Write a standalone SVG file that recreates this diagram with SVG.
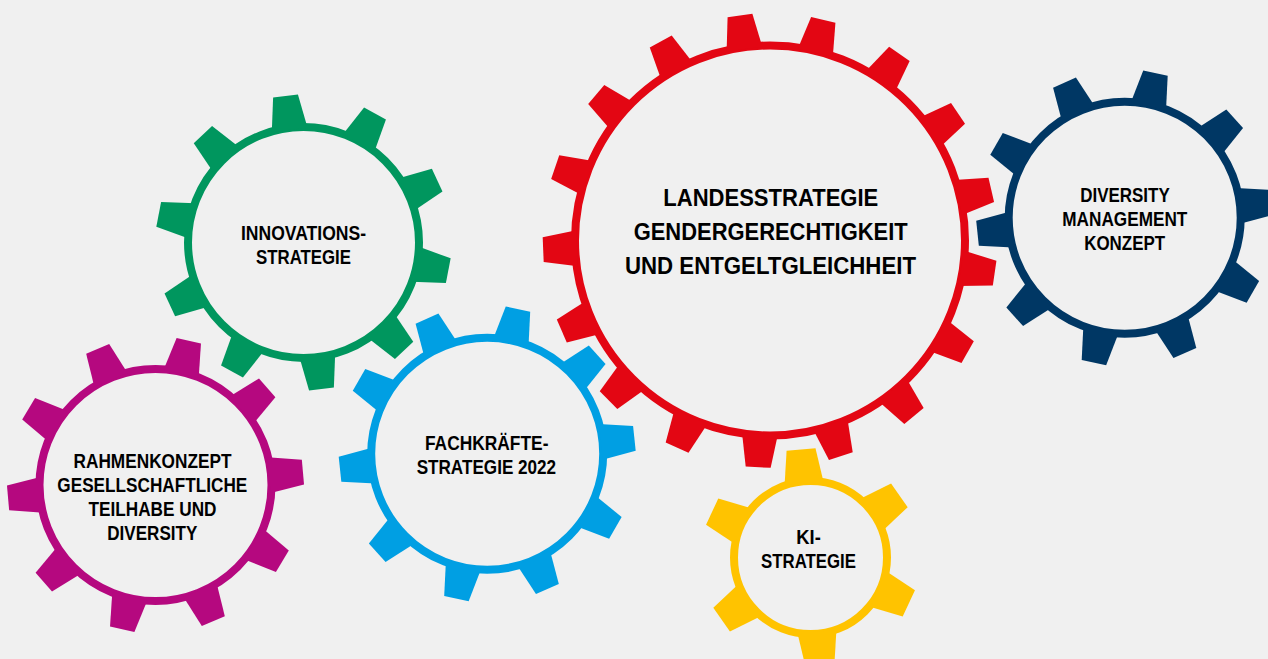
<svg xmlns="http://www.w3.org/2000/svg" xmlns:xlink="http://www.w3.org/1999/xlink" width="1268" height="659" viewBox="0 0 1268 659">
<style>
.ring{fill:none;stroke-width:8}
.lbl{font-family:"Liberation Sans",Arial,sans-serif;font-weight:bold;fill:#000;text-anchor:middle}
.big{font-size:23.5px}
.sm{font-size:19.5px}
</style>
<defs>
<path id="tooth" d="M-18,6 L-12.5,-28 L12.5,-28 L18,6 Z"/>
<path id="toothY" d="M-19.5,6 L-14.5,-28 L14.5,-28 L19.5,6 Z"/>
</defs>
<rect width="1268" height="659" fill="#f0f0f0"/>

<g id="gear-innovation">
<g transform="translate(303.5 242.5)" fill="#00965e">
<circle class="ring" r="115.5" stroke="#00965e"/>
<use xlink:href="#tooth" transform="rotate(-7) translate(0 -119.5)"/>
<use xlink:href="#tooth" transform="rotate(29) translate(0 -119.5)"/>
<use xlink:href="#tooth" transform="rotate(65) translate(0 -119.5)"/>
<use xlink:href="#tooth" transform="rotate(101) translate(0 -119.5)"/>
<use xlink:href="#tooth" transform="rotate(137) translate(0 -119.5)"/>
<use xlink:href="#tooth" transform="rotate(173) translate(0 -119.5)"/>
<use xlink:href="#tooth" transform="rotate(209) translate(0 -119.5)"/>
<use xlink:href="#tooth" transform="rotate(245) translate(0 -119.5)"/>
<use xlink:href="#tooth" transform="rotate(281) translate(0 -119.5)"/>
<use xlink:href="#tooth" transform="rotate(317) translate(0 -119.5)"/>
</g>
<text class="lbl sm" x="303.5" y="239.5" textLength="125" lengthAdjust="spacingAndGlyphs">INNOVATIONS-</text>
<text class="lbl sm" x="303.5" y="263.5" textLength="95" lengthAdjust="spacingAndGlyphs">STRATEGIE</text>
</g>

<g id="gear-landesstrategie">
<g transform="translate(770 240.5)" fill="#e30613">
<circle class="ring" r="195" stroke="#e30613"/>
<use xlink:href="#tooth" transform="rotate(-7.6) translate(0 -199)"/>
<use xlink:href="#tooth" transform="rotate(13.576) translate(0 -199)"/>
<use xlink:href="#tooth" transform="rotate(34.753) translate(0 -199)"/>
<use xlink:href="#tooth" transform="rotate(55.929) translate(0 -199)"/>
<use xlink:href="#tooth" transform="rotate(77.106) translate(0 -199)"/>
<use xlink:href="#tooth" transform="rotate(98.282) translate(0 -199)"/>
<use xlink:href="#tooth" transform="rotate(119.459) translate(0 -199)"/>
<use xlink:href="#tooth" transform="rotate(140.635) translate(0 -199)"/>
<use xlink:href="#tooth" transform="rotate(161.812) translate(0 -199)"/>
<use xlink:href="#tooth" transform="rotate(182.988) translate(0 -199)"/>
<use xlink:href="#tooth" transform="rotate(204.165) translate(0 -199)"/>
<use xlink:href="#tooth" transform="rotate(225.341) translate(0 -199)"/>
<use xlink:href="#tooth" transform="rotate(246.518) translate(0 -199)"/>
<use xlink:href="#tooth" transform="rotate(267.694) translate(0 -199)"/>
<use xlink:href="#tooth" transform="rotate(288.871) translate(0 -199)"/>
<use xlink:href="#tooth" transform="rotate(310.047) translate(0 -199)"/>
<use xlink:href="#tooth" transform="rotate(331.224) translate(0 -199)"/>
</g>
<text class="lbl big" x="770.8" y="205.5" textLength="215" lengthAdjust="spacingAndGlyphs">LANDESSTRATEGIE</text>
<text class="lbl big" x="770.7" y="240" textLength="274" lengthAdjust="spacingAndGlyphs">GENDERGERECHTIGKEIT</text>
<text class="lbl big" x="770.5" y="274" textLength="291" lengthAdjust="spacingAndGlyphs">UND ENTGELTGLEICHHEIT</text>
</g>

<g id="gear-diversity-management">
<g transform="translate(1124.7 217.8)" fill="#003764">
<circle class="ring" r="116" stroke="#003764"/>
<use xlink:href="#tooth" transform="rotate(12) translate(0 -120)"/>
<use xlink:href="#tooth" transform="rotate(48) translate(0 -120)"/>
<use xlink:href="#tooth" transform="rotate(84) translate(0 -120)"/>
<use xlink:href="#tooth" transform="rotate(120) translate(0 -120)"/>
<use xlink:href="#tooth" transform="rotate(156) translate(0 -120)"/>
<use xlink:href="#tooth" transform="rotate(192) translate(0 -120)"/>
<use xlink:href="#tooth" transform="rotate(228) translate(0 -120)"/>
<use xlink:href="#tooth" transform="rotate(264) translate(0 -120)"/>
<use xlink:href="#tooth" transform="rotate(300) translate(0 -120)"/>
<use xlink:href="#tooth" transform="rotate(336) translate(0 -120)"/>
</g>
<text class="lbl sm" x="1125" y="201.5" textLength="89.5" lengthAdjust="spacingAndGlyphs">DIVERSITY</text>
<text class="lbl sm" x="1124.8" y="226" textLength="125" lengthAdjust="spacingAndGlyphs">MANAGEMENT</text>
<text class="lbl sm" x="1124.7" y="250" textLength="81" lengthAdjust="spacingAndGlyphs">KONZEPT</text>
</g>

<g id="gear-rahmenkonzept">
<g transform="translate(155.5 485)" fill="#b5087f">
<circle class="ring" r="116" stroke="#b5087f"/>
<use xlink:href="#tooth" transform="rotate(13) translate(0 -120)"/>
<use xlink:href="#tooth" transform="rotate(49) translate(0 -120)"/>
<use xlink:href="#tooth" transform="rotate(85) translate(0 -120)"/>
<use xlink:href="#tooth" transform="rotate(121) translate(0 -120)"/>
<use xlink:href="#tooth" transform="rotate(157) translate(0 -120)"/>
<use xlink:href="#tooth" transform="rotate(193) translate(0 -120)"/>
<use xlink:href="#tooth" transform="rotate(229) translate(0 -120)"/>
<use xlink:href="#tooth" transform="rotate(265) translate(0 -120)"/>
<use xlink:href="#tooth" transform="rotate(301) translate(0 -120)"/>
<use xlink:href="#tooth" transform="rotate(337) translate(0 -120)"/>
</g>
<text class="lbl sm" x="152.5" y="468" textLength="158" lengthAdjust="spacingAndGlyphs">RAHMENKONZEPT</text>
<text class="lbl sm" x="152.3" y="492" textLength="190" lengthAdjust="spacingAndGlyphs">GESELLSCHAFTLICHE</text>
<text class="lbl sm" x="152.5" y="516" textLength="128" lengthAdjust="spacingAndGlyphs">TEILHABE UND</text>
<text class="lbl sm" x="152.3" y="540" textLength="90" lengthAdjust="spacingAndGlyphs">DIVERSITY</text>
</g>

<g id="gear-fachkraefte">
<g transform="translate(487.2 453.8)" fill="#009fe3">
<circle class="ring" r="116" stroke="#009fe3"/>
<use xlink:href="#tooth" transform="rotate(12) translate(0 -120)"/>
<use xlink:href="#tooth" transform="rotate(48) translate(0 -120)"/>
<use xlink:href="#tooth" transform="rotate(84) translate(0 -120)"/>
<use xlink:href="#tooth" transform="rotate(120) translate(0 -120)"/>
<use xlink:href="#tooth" transform="rotate(156) translate(0 -120)"/>
<use xlink:href="#tooth" transform="rotate(192) translate(0 -120)"/>
<use xlink:href="#tooth" transform="rotate(228) translate(0 -120)"/>
<use xlink:href="#tooth" transform="rotate(264) translate(0 -120)"/>
<use xlink:href="#tooth" transform="rotate(300) translate(0 -120)"/>
<use xlink:href="#tooth" transform="rotate(336) translate(0 -120)"/>
</g>
<text class="lbl sm" x="486.7" y="449.5" textLength="123.5" lengthAdjust="spacingAndGlyphs">FACHKRÄFTE-</text>
<text class="lbl sm" x="486.4" y="473.5" textLength="139.5" lengthAdjust="spacingAndGlyphs">STRATEGIE 2022</text>
</g>

<g id="gear-ki">
<g transform="translate(810.5 557.5)" fill="#ffc300">
<circle class="ring" r="76.5" stroke="#ffc300"/>
<use xlink:href="#toothY" transform="rotate(-5) translate(0 -80.5)"/>
<use xlink:href="#toothY" transform="rotate(55) translate(0 -80.5)"/>
<use xlink:href="#toothY" transform="rotate(115) translate(0 -80.5)"/>
<use xlink:href="#toothY" transform="rotate(175) translate(0 -80.5)"/>
<use xlink:href="#toothY" transform="rotate(235) translate(0 -80.5)"/>
<use xlink:href="#toothY" transform="rotate(295) translate(0 -80.5)"/>
</g>
<text class="lbl sm" x="808.5" y="544" textLength="24.5" lengthAdjust="spacingAndGlyphs">KI-</text>
<text class="lbl sm" x="808.5" y="568" textLength="95" lengthAdjust="spacingAndGlyphs">STRATEGIE</text>
</g>

<g id="connectors"></g>
</svg>
